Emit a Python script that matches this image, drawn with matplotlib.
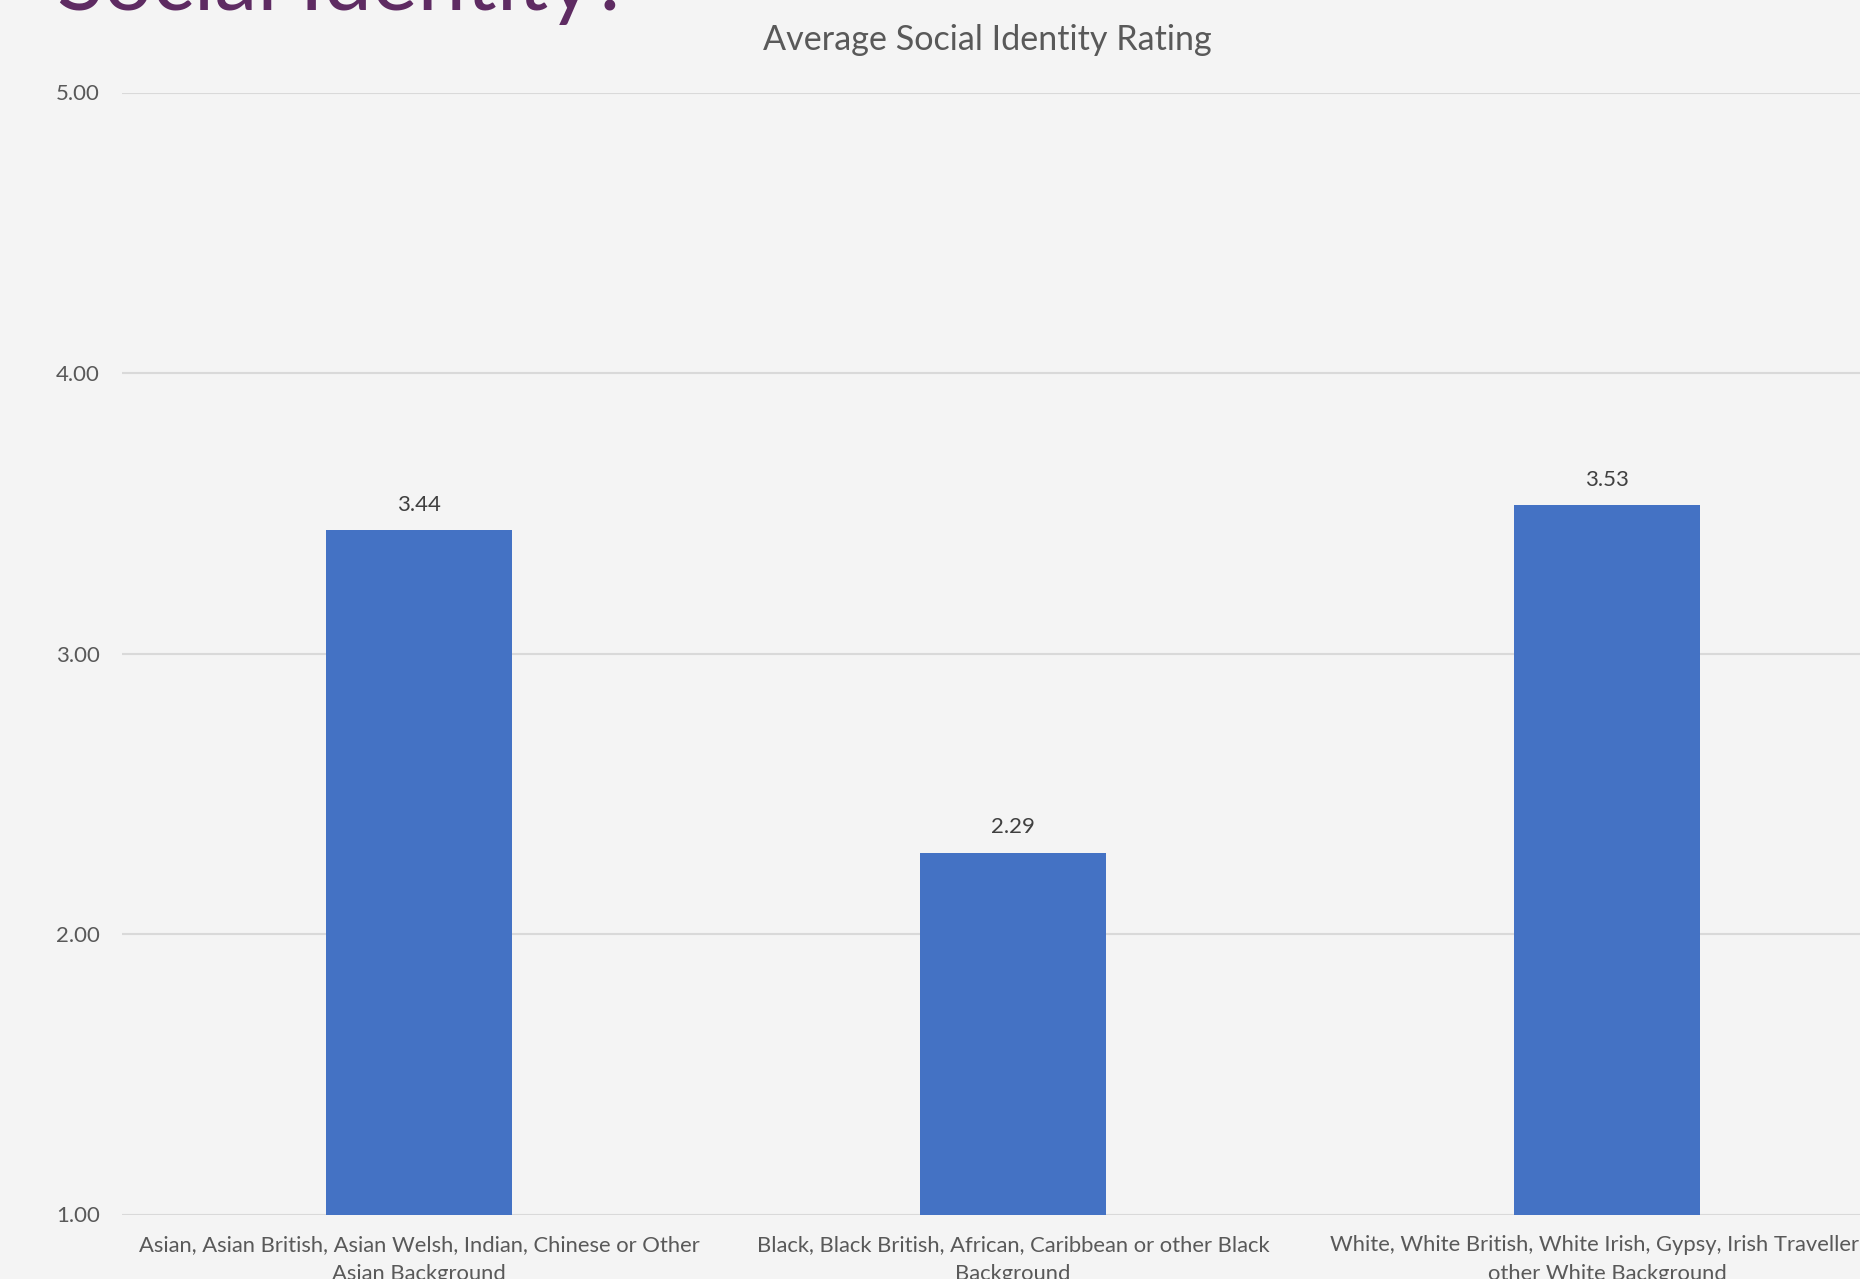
import matplotlib
matplotlib.use("Agg")
import matplotlib.pyplot as plt

categories = [
    "Asian, Asian British, Asian Welsh, Indian, Chinese or Other\nAsian Background",
    "Black, Black British, African, Caribbean or other Black\nBackground",
    "White, White British, White Irish, Gypsy, Irish Traveller or\nother White Background",
]
values = [3.44, 2.29, 3.53]
yticks = [1.0, 2.0, 3.0, 4.0, 5.0]

plt.rcParams['font.family'] = ['Lato', 'DejaVu Sans']

bg = "#F4F4F4"
fig = plt.figure(figsize=(18.6, 12.79), dpi=100, facecolor=bg)
ax = fig.add_axes([122/1860, 64.5/1279, (1904-122)/1860, (1186.5-64.5)/1279])
ax.set_facecolor(bg)

x = list(range(len(categories)))
bars = ax.bar(x, values, width=0.313, color="#4472C4", zorder=3)
ax.set_xlim(-0.5, 2.5)
ax.set_ylim(1, 5)
ax.set_yticks(yticks)
ax.set_yticklabels([f"{v:.2f}" for v in yticks], fontsize=16, color="#595959")
ax.set_xticks(x)
ax.set_xticklabels(categories, fontsize=15.8, color="#595959", linespacing=1.55)
ax.tick_params(axis='both', length=0)
ax.tick_params(axis='y', pad=16)
ax.tick_params(axis='x', pad=15)
ax.grid(axis='y', color="#D9D9D9", linewidth=1.5, zorder=0)
for s in ax.spines.values():
    s.set_visible(False)

for xi, v in zip(x, values):
    ax.annotate(f"{v:.2f}", (xi, v), xytext=(0, 11), textcoords="offset points",
                ha="center", va="bottom", fontsize=16, color="#404040")

fig.text(987/1860, 1-40/1279, "Average Social Identity Rating", ha="center", va="center",
         fontsize=24.6, color="#595959")
fig.text(57/1860, 1-10/1279, "Social Identity?", ha="left", va="baseline",
         fontsize=62, color="#5E2B62")

fig.savefig("out.png", dpi=100, facecolor=bg)
